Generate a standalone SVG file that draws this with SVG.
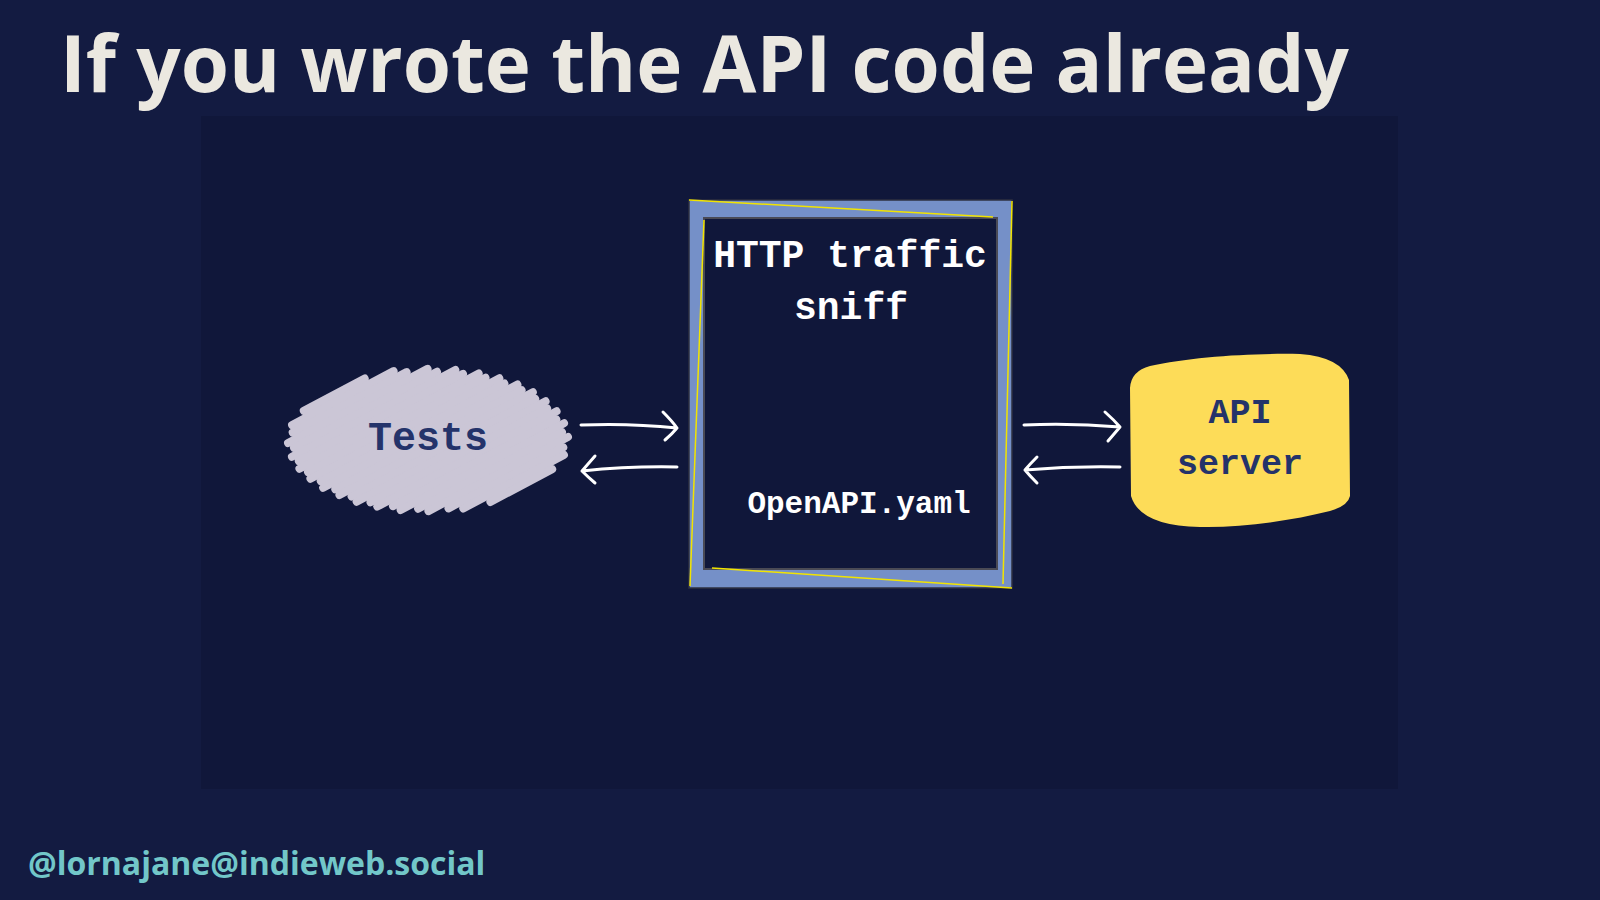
<svg xmlns="http://www.w3.org/2000/svg" width="1600" height="900" viewBox="0 0 1600 900">
<style>
.title{font-family:"Open Sans","Noto Sans",sans-serif;font-weight:700;font-size:78px;fill:#ebe8e0}
.foot{font-family:"Open Sans","Noto Sans",sans-serif;font-weight:700;font-size:32px;fill:#72c7c9}
.mono{font-family:"Liberation Mono","Courier New",monospace;font-weight:700;text-anchor:middle}
.wt{fill:#ffffff}
.dk{fill:#24336a}
.arr{fill:none;stroke:#ffffff;stroke-width:3;stroke-linecap:round;stroke-linejoin:round}
.hatch line{stroke:#cbc6d6;stroke-width:8;stroke-linecap:round}
.yl{stroke:#f2e400;stroke-width:1.5;fill:none}
</style>
<rect x="0" y="0" width="1600" height="900" fill="#131b41"/>
<rect x="201" y="116" width="1197" height="673" fill="#10173a"/>
<text class="title" x="60" y="92">If you wrote the API code already</text>
<text class="foot" x="28" y="875">@lornajane@indieweb.social</text>

<g id="tests">
<g class="hatch" transform="translate(428,440) rotate(-28)">
<line x1="-96" y1="-84" x2="-27" y2="-84"/>
<line x1="-113" y1="-77" x2="2" y2="-77"/>
<line x1="-116" y1="-70" x2="13" y2="-70"/>
<line x1="-125" y1="-63" x2="33" y2="-63"/>
<line x1="-122" y1="-56" x2="40" y2="-56"/>
<line x1="-128" y1="-49" x2="57" y2="-49"/>
<line x1="-124" y1="-42" x2="62" y2="-42"/>
<line x1="-127" y1="-35" x2="76" y2="-35"/>
<line x1="-121" y1="-28" x2="80" y2="-28"/>
<line x1="-122" y1="-21" x2="92" y2="-21"/>
<line x1="-114" y1="-14" x2="94" y2="-14"/>
<line x1="-115" y1="-7" x2="105" y2="-7"/>
<line x1="-105" y1="0" x2="106" y2="0"/>
<line x1="-104" y1="7" x2="115" y2="7"/>
<line x1="-94" y1="14" x2="114" y2="14"/>
<line x1="-92" y1="21" x2="122" y2="21"/>
<line x1="-80" y1="28" x2="120" y2="28"/>
<line x1="-76" y1="35" x2="127" y2="35"/>
<line x1="-62" y1="42" x2="123" y2="42"/>
<line x1="-57" y1="49" x2="128" y2="49"/>
<line x1="-41" y1="56" x2="122" y2="56"/>
<line x1="-33" y1="63" x2="125" y2="63"/>
<line x1="-14" y1="70" x2="116" y2="70"/>
<line x1="-1" y1="77" x2="113" y2="77"/>
<line x1="26" y1="84" x2="96" y2="84"/>
</g>
<text class="mono dk" x="428" y="450" font-size="40">Tests</text>
</g>

<g id="sniff">
<rect x="689" y="200" width="323" height="388" fill="#7590c8" stroke="#2e3040" stroke-width="1.5"/>
<rect x="704" y="218" width="293" height="351" fill="#10173a" stroke="#4a4a55" stroke-width="2"/>
<path class="yl" d="M689,200 L993,217"/>
<path class="yl" d="M1012,201 L1003,584"/>
<path class="yl" d="M704,220 L690,586"/>
<path class="yl" d="M712,568 L1012,588"/>
<text class="mono wt" x="850" y="267" font-size="38">HTTP traffic</text>
<text class="mono wt" x="851" y="319" font-size="38">sniff</text>
<text class="mono wt" x="859" y="513" font-size="31">OpenAPI.yaml</text>
</g>

<g id="api">
<path d="M1130,388 Q1131,371 1150,366 C1190,357 1250,353 1300,354 Q1341,357 1349,380 L1350,496 Q1348,506 1330,511 C1290,521 1240,528 1200,527 Q1140,526 1131,496 Z" fill="#fddc58"/>
<text class="mono dk" x="1240" y="423" font-size="35">API</text>
<text class="mono dk" x="1240" y="474" font-size="35">server</text>
</g>

<g id="connectors">
<path class="arr" d="M581,425 Q630,423 677,428 M663,412 Q672,421 677,428 Q672,434 665,440"/>
<path class="arr" d="M677,467 Q630,466 582,471 M595,456 Q588,464 582,471 Q588,477 595,483"/>
<path class="arr" d="M1024,425 Q1072,423 1120,427 M1105,412 Q1114,420 1120,427 Q1114,434 1108,441"/>
<path class="arr" d="M1120,467 Q1072,466 1025,470 M1037,457 Q1030,464 1025,470 Q1030,476 1037,483"/>
</g>
</svg>
